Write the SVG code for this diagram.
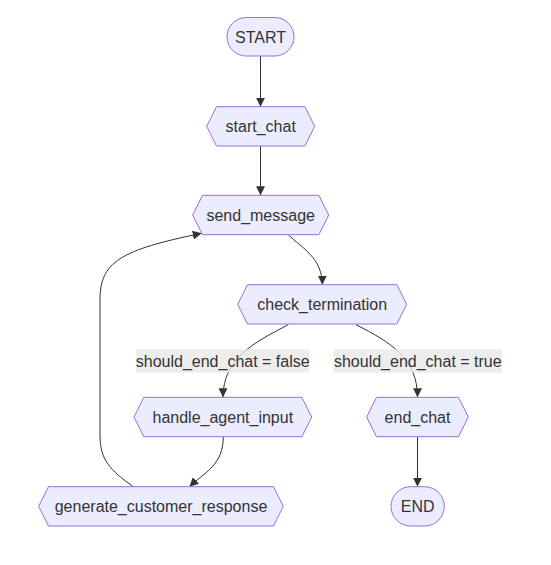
<svg xmlns="http://www.w3.org/2000/svg" width="551" height="565" viewBox="0 0 551 565">
<style>
.node{fill:#ECECFF;stroke:#9370DB;stroke-width:1}
.lbl{font-family:"Liberation Sans",Arial,sans-serif;font-size:16px;fill:#333;text-anchor:middle;dominant-baseline:central}
.edge{fill:none;stroke:#333;stroke-width:1}
.ebg{fill:#e8e8e8;fill-opacity:0.8}
</style>
<defs>
<marker id="arrow" viewBox="0 0 10 10" refX="10" refY="5" markerWidth="9" markerHeight="9" markerUnits="userSpaceOnUse" orient="auto">
<path d="M0,0 L10,5 L0,10 z" fill="#333"/>
</marker>
</defs>
<rect width="551" height="565" fill="#fff"/>
<g id="edges">
<path class="edge" d="M260.5,56 L260.5,106.7" marker-end="url(#arrow)"/>
<path class="edge" d="M260.5,146 L260.5,195.3" marker-end="url(#arrow)"/>
<path class="edge" d="M288.3,234.7 C302,248 322.3,258 322.3,284.7" marker-end="url(#arrow)"/>
<path class="edge" d="M288.3,324.7 C255,342 223,358 223,397.3" marker-end="url(#arrow)"/>
<path class="edge" d="M356,324.7 C390,342 417.5,358 417.5,397.3" marker-end="url(#arrow)"/>
<path class="edge" d="M223.3,436.7 C223.3,465 205,472 189.3,486.7" marker-end="url(#arrow)"/>
<path class="edge" d="M133.3,486.7 C110,470 100,460 100,435 L100,300 C100,262 120,250 201.7,233.3" marker-end="url(#arrow)"/>
<path class="edge" d="M417.5,436.7 L417.5,486.7" marker-end="url(#arrow)"/>
<g id="label-false">
<rect class="ebg" x="136" y="349.3" width="173.3" height="23.4"/>
<text class="lbl" x="222.7" y="361">should_end_chat = false</text>
</g>
<g id="label-true">
<rect class="ebg" x="333.3" y="349.3" width="169" height="23.4"/>
<text class="lbl" x="417.8" y="361">should_end_chat = true</text>
</g>
</g>
<g id="START">
<rect class="node" x="227" y="17.5" width="67" height="38.5" rx="19.25" ry="19.25"/>
<text class="lbl" x="260.5" y="37">START</text>
</g>
<g id="start_chat">
<polygon class="node" points="216.5,106.7 304.9,106.7 314.7,126.3 304.9,146 216.5,146 206.7,126.3"/>
<text class="lbl" x="260.7" y="126.3">start_chat</text>
</g>
<g id="send_message">
<polygon class="node" points="202.5,195.3 318.9,195.3 328.7,215 318.9,234.7 202.5,234.7 192.7,215"/>
<text class="lbl" x="260.7" y="215">send_message</text>
</g>
<g id="check_termination">
<polygon class="node" points="247.5,284.7 396.9,284.7 406.7,304.3 396.9,324 247.5,324 237.7,304.3"/>
<text class="lbl" x="322.2" y="304.3">check_termination</text>
</g>
<g id="handle_agent_input">
<polygon class="node" points="143.8,397.3 301.9,397.3 311.7,417 301.9,436.7 143.8,436.7 134,417"/>
<text class="lbl" x="222.8" y="417">handle_agent_input</text>
</g>
<g id="end_chat">
<polygon class="node" points="376.5,397.3 458.5,397.3 468.3,417 458.5,436.7 376.5,436.7 366.7,417"/>
<text class="lbl" x="417.5" y="417">end_chat</text>
</g>
<g id="generate_customer_response">
<polygon class="node" points="48.5,486.7 273.5,486.7 283.3,506.3 273.5,526 48.5,526 38.7,506.3"/>
<text class="lbl" x="161" y="506.3">generate_customer_response</text>
</g>
<g id="END">
<rect class="node" x="391" y="486.7" width="53.3" height="39.3" rx="19.65" ry="19.65"/>
<text class="lbl" x="417.7" y="506.3">END</text>
</g>
</svg>
